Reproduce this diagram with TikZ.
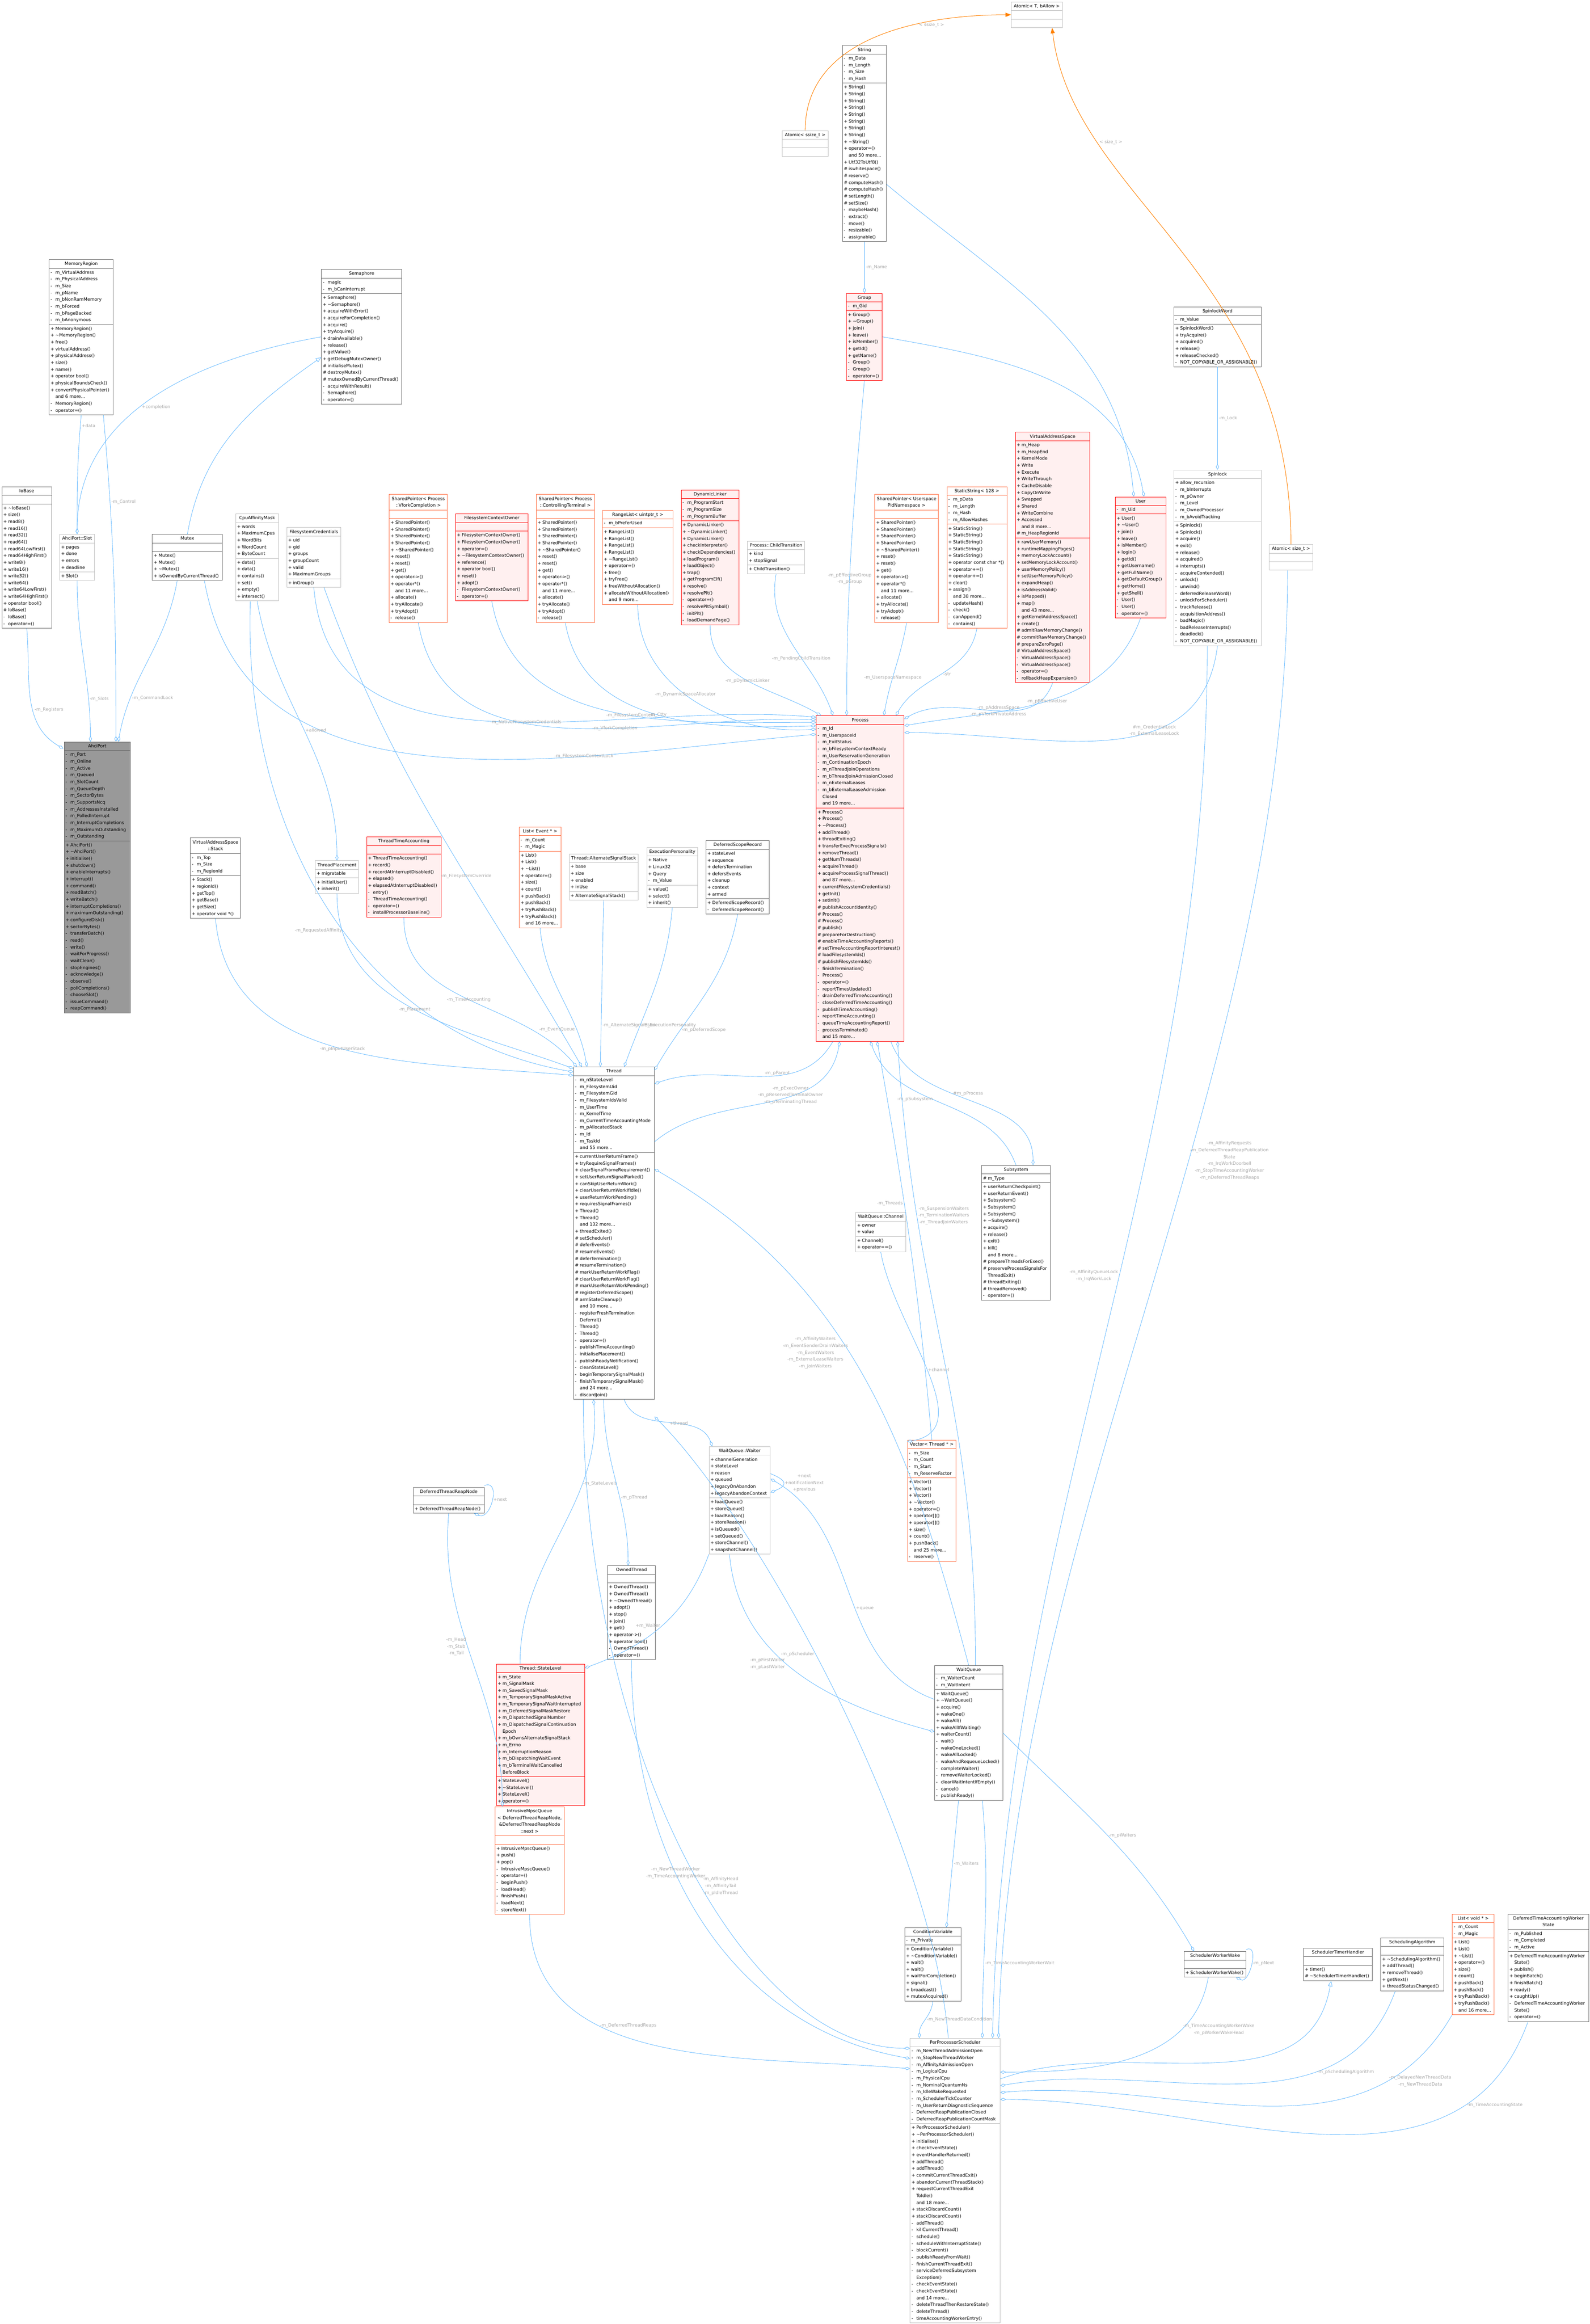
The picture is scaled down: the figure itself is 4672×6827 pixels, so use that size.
\documentclass[tikz,border=0pt]{standalone}
\usepackage{fontspec}
\setmainfont{DejaVu Sans}
\usetikzlibrary{shapes.multipart,arrows.meta}
\definecolor{eb}{HTML}{63B8FF}
\definecolor{lc}{HTML}{A8A8A8}
\definecolor{dk}{HTML}{666666}
\definecolor{lt}{HTML}{BFBFBF}
\definecolor{rf}{HTML}{FFF0F0}
\definecolor{orn}{HTML}{FF6A3D}
\newcommand\fs{\fontsize{3.7}{5.69}\selectfont}
\newcommand\mi[2]{\strut\makebox[1.1em][l]{#1}#2\par}
\newcommand\Mp[1]{\mi{+}{#1}}
\newcommand\Mv[1]{\mi{-}{#1}}
\newcommand\Mh[1]{\mi{\#}{#1}}
\newcommand\Mc[1]{\strut\hspace*{1.1em}#1\par}
\newcommand\tl{\textasciitilde}
\newcommand\cbox[8]{\node[cls,#2,text width=#5cm] (#1) at (#3,#4) {\centering #6\par\nodepart{two}\raggedright #7\nodepart{three}\raggedright #8};}
\begin{document}
\catcode`\_=12
\begin{tikzpicture}[x=0.01cm,y=-0.01cm,
 cls/.style={rectangle split,rectangle split parts=3,draw,anchor=north west,inner xsep=0.04cm,inner ysep=0.02cm,font=\fs,line width=0.012cm},
 dkb/.style={draw=dk,fill=white},
 ltb/.style={draw=lt,fill=white},
 redb/.style={draw=red,fill=rf},
 orb/.style={draw=orn,fill=white},
 root/.style={draw=dk,fill=black!40},
 agg/.style={draw=eb,line width=0.012cm,-{Diamond[open,length=0.17cm,width=0.09cm]}},
 inh/.style={draw=eb,line width=0.012cm,-{Triangle[open,length=0.16cm,width=0.13cm]}},
 tmpl/.style={draw=orange,line width=0.014cm,-{Triangle[length=0.16cm,width=0.12cm]}},
 lbl/.style={text=lc,font=\fs,align=center,inner sep=1pt}]
\useasboundingbox (0,0) rectangle (4672,6827);
% ---------------- top
\cbox{atomicT}{ltb}{2971}{5}{1.42}{\strut Atomic< T, bAllow >}{\strut}{\strut}
\cbox{string}{dkb}{2475}{133}{1.21}{\strut String}{\Mv{m_Data}\Mv{m_Length}\Mv{m_Size}\Mv{m_Hash}}{\Mp{String()}\Mp{String()}\Mp{String()}\Mp{String()}\Mp{String()}\Mp{String()}\Mp{String()}\Mp{String()}\Mp{\tl String()}\Mp{operator=()}\Mc{and 50 more...}\Mp{Utf32ToUtf8()}\Mh{iswhitespace()}\Mh{reserve()}\Mh{computeHash()}\Mh{computeHash()}\Mh{setLength()}\Mh{setSize()}\Mv{maybeHash()}\Mv{extract()}\Mv{move()}\Mv{resizable()}\Mv{assignable()}}
\cbox{assize}{ltb}{2298}{383}{1.27}{\strut Atomic< ssize_t >}{\strut}{\strut}
\cbox{group}{redb}{2487}{861}{0.97}{\strut Group}{\Mv{m_Gid}}{\Mp{Group()}\Mp{\tl Group()}\Mp{join()}\Mp{leave()}\Mp{isMember()}\Mp{getId()}\Mp{getName()}\Mv{Group()}\Mv{Group()}\Mv{operator=()}}
\cbox{memreg}{dkb}{144}{762}{1.80}{\strut MemoryRegion}{\Mv{m_VirtualAddress}\Mv{m_PhysicalAddress}\Mv{m_Size}\Mv{m_pName}\Mv{m_bNonRamMemory}\Mv{m_bForced}\Mv{m_bPageBacked}\Mv{m_bAnonymous}}{\Mp{MemoryRegion()}\Mp{\tl MemoryRegion()}\Mp{free()}\Mp{virtualAddress()}\Mp{physicalAddress()}\Mp{size()}\Mp{name()}\Mp{operator bool()}\Mp{physicalBoundsCheck()}\Mp{convertPhysicalPointer()}\Mc{and 6 more...}\Mv{MemoryRegion()}\Mv{operator=()}}
\cbox{sem}{dkb}{944}{791}{2.28}{\strut Semaphore}{\Mv{magic}\Mv{m_bCanInterrupt}}{\Mp{Semaphore()}\Mp{\tl Semaphore()}\Mp{acquireWithError()}\Mp{acquireForCompletion()}\Mp{acquire()}\Mp{tryAcquire()}\Mp{drainAvailable()}\Mp{release()}\Mp{getValue()}\Mp{getDebugMutexOwner()}\Mh{initialiseMutex()}\Mh{destroyMutex()}\Mh{mutexOwnedByCurrentThread()}\Mv{acquireWithResult()}\Mv{Semaphore()}\Mv{operator=()}}
\cbox{swd}{dkb}{3449}{901}{2.48}{\strut SpinlockWord}{\Mv{m_Value}}{\Mp{SpinlockWord()}\Mp{tryAcquire()}\Mp{acquired()}\Mp{release()}\Mp{releaseChecked()}\Mv{NOT_COPYABLE_OR_ASSIGNABLE()}}
\cbox{spin}{ltb}{3449}{1380}{2.48}{\strut Spinlock}{\Mp{allow_recursion}\Mv{m_bInterrupts}\Mv{m_pOwner}\Mv{m_Level}\Mv{m_OwnedProcessor}\Mv{m_bAvoidTracking}}{\Mp{Spinlock()}\Mp{Spinlock()}\Mp{acquire()}\Mp{exit()}\Mp{release()}\Mp{acquired()}\Mp{interrupts()}\Mv{acquireContended()}\Mv{unlock()}\Mv{unwind()}\Mv{deferredReleaseWord()}\Mv{unlockForScheduler()}\Mv{trackRelease()}\Mv{acquisitionAddress()}\Mv{badMagic()}\Mv{badReleaseInterrupts()}\Mv{deadlock()}\Mv{NOT_COPYABLE_OR_ASSIGNABLE()}}
\cbox{asize}{ltb}{3729}{1599}{1.20}{\strut Atomic< size_t >}{\strut}{\strut}
\cbox{vas}{redb}{2983}{1269}{2.11}{\strut VirtualAddressSpace}{\Mp{m_Heap}\Mp{m_HeapEnd}\Mp{KernelMode}\Mp{Write}\Mp{Execute}\Mp{WriteThrough}\Mp{CacheDisable}\Mp{CopyOnWrite}\Mp{Swapped}\Mp{Shared}\Mp{WriteCombine}\Mp{Accessed}\Mc{and 8 more...}\Mh{m_HeapRegionId}}{\Mp{rawUserMemory()}\Mp{runtimeMappingPages()}\Mp{memoryLockAccount()}\Mp{setMemoryLockAccount()}\Mp{userMemoryPolicy()}\Mp{setUserMemoryPolicy()}\Mp{expandHeap()}\Mp{isAddressValid()}\Mp{isMapped()}\Mp{map()}\Mc{and 43 more...}\Mp{getKernelAddressSpace()}\Mp{create()}\Mh{admitRawMemoryChange()}\Mh{commitRawMemoryChange()}\Mh{prepareZeroPage()}\Mh{VirtualAddressSpace()}\Mv{VirtualAddressSpace()}\Mv{VirtualAddressSpace()}\Mv{operator=()}\Mv{rollbackHeapExpansion()}}
\cbox{user}{redb}{3277}{1459}{1.40}{\strut User}{\Mv{m_Uid}}{\Mp{User()}\Mp{\tl User()}\Mp{join()}\Mp{leave()}\Mp{isMember()}\Mp{login()}\Mp{getId()}\Mp{getUsername()}\Mp{getFullName()}\Mp{getDefaultGroup()}\Mp{getHome()}\Mp{getShell()}\Mv{User()}\Mv{User()}\Mv{operator=()}}
\cbox{iobase}{dkb}{5}{1429}{1.38}{\strut IoBase}{\strut}{\Mp{\tl IoBase()}\Mp{size()}\Mp{read8()}\Mp{read16()}\Mp{read32()}\Mp{read64()}\Mp{read64LowFirst()}\Mp{read64HighFirst()}\Mp{write8()}\Mp{write16()}\Mp{write32()}\Mp{write64()}\Mp{write64LowFirst()}\Mp{write64HighFirst()}\Mp{operator bool()}\Mh{IoBase()}\Mv{IoBase()}\Mv{operator=()}}
\cbox{slot}{ltb}{175}{1569}{0.94}{\strut AhciPort::Slot}{\Mp{pages}\Mp{done}\Mp{errors}\Mp{deadline}}{\Mp{Slot()}}
\cbox{mutex}{dkb}{447}{1569}{1.98}{\strut Mutex}{\strut}{\Mp{Mutex()}\Mp{Mutex()}\Mp{\tl Mutex()}\Mp{isOwnedByCurrentThread()}}
\cbox{cpu}{ltb}{692}{1509}{1.18}{\strut CpuAffinityMask}{\Mp{words}\Mp{MaximumCpus}\Mp{WordBits}\Mp{WordCount}\Mp{ByteCount}}{\Mp{data()}\Mp{data()}\Mp{contains()}\Mp{set()}\Mp{empty()}\Mp{intersect()}}
\cbox{fscred}{ltb}{842}{1549}{1.51}{\strut FilesystemCredentials}{\Mp{uid}\Mp{gid}\Mp{groups}\Mp{groupCount}\Mp{valid}\Mp{MaximumGroups}}{\Mp{inGroup()}}
\cbox{spvf}{orb}{1143}{1452}{1.63}{\strut SharedPointer< Process\\\strut ::VforkCompletion >}{\strut}{\Mp{SharedPointer()}\Mp{SharedPointer()}\Mp{SharedPointer()}\Mp{SharedPointer()}\Mp{\tl SharedPointer()}\Mp{reset()}\Mp{reset()}\Mp{get()}\Mp{operator->()}\Mp{operator*()}\Mc{and 11 more...}\Mp{allocate()}\Mp{tryAllocate()}\Mp{tryAdopt()}\Mv{release()}}
\cbox{fsco}{redb}{1338}{1509}{2.05}{\strut FilesystemContextOwner}{\strut}{\Mp{FilesystemContextOwner()}\Mp{FilesystemContextOwner()}\Mp{operator=()}\Mp{\tl FilesystemContextOwner()}\Mp{reference()}\Mp{operator bool()}\Mp{reset()}\Mp{adopt()}\Mv{FilesystemContextOwner()}\Mv{operator=()}}
\cbox{spct}{orb}{1575}{1452}{1.63}{\strut SharedPointer< Process\\\strut ::ControllingTerminal >}{\strut}{\Mp{SharedPointer()}\Mp{SharedPointer()}\Mp{SharedPointer()}\Mp{SharedPointer()}\Mp{\tl SharedPointer()}\Mp{reset()}\Mp{reset()}\Mp{get()}\Mp{operator->()}\Mp{operator*()}\Mc{and 11 more...}\Mp{allocate()}\Mp{tryAllocate()}\Mp{tryAdopt()}\Mv{release()}}
\cbox{range}{orb}{1770}{1499}{1.99}{\strut RangeList< uintptr_t >}{\Mv{m_bPreferUsed}}{\Mp{RangeList()}\Mp{RangeList()}\Mp{RangeList()}\Mp{RangeList()}\Mp{\tl RangeList()}\Mp{operator=()}\Mp{free()}\Mp{tryFree()}\Mp{freeWithoutAllocation()}\Mp{allocateWithoutAllocation()}\Mc{and 9 more...}}
\cbox{dynl}{redb}{2001}{1439}{1.62}{\strut DynamicLinker}{\Mv{m_ProgramStart}\Mv{m_ProgramSize}\Mv{m_ProgramBuffer}}{\Mp{DynamicLinker()}\Mp{\tl DynamicLinker()}\Mp{DynamicLinker()}\Mp{checkInterpreter()}\Mp{checkDependencies()}\Mp{loadProgram()}\Mp{loadObject()}\Mp{trap()}\Mp{getProgramElf()}\Mp{resolve()}\Mp{resolvePlt()}\Mv{operator=()}\Mv{resolvePltSymbol()}\Mv{initPlt()}\Mv{loadDemandPage()}}
\cbox{child}{ltb}{2196}{1589}{1.60}{\strut Process::ChildTransition}{\Mp{kind}\Mp{stopSignal}}{\Mp{ChildTransition()}}
\cbox{sppid}{orb}{2570}{1452}{1.79}{\strut SharedPointer< Userspace\\\strut PidNamespace >}{\strut}{\Mp{SharedPointer()}\Mp{SharedPointer()}\Mp{SharedPointer()}\Mp{SharedPointer()}\Mp{\tl SharedPointer()}\Mp{reset()}\Mp{reset()}\Mp{get()}\Mp{operator->()}\Mp{operator*()}\Mc{and 11 more...}\Mp{allocate()}\Mp{tryAllocate()}\Mp{tryAdopt()}\Mv{release()}}
\cbox{sstr}{orb}{2782}{1429}{1.68}{\strut StaticString< 128 >}{\Mv{m_pData}\Mv{m_Length}\Mv{m_Hash}\Mv{m_AllowHashes}}{\Mp{StaticString()}\Mp{StaticString()}\Mp{StaticString()}\Mp{StaticString()}\Mp{StaticString()}\Mp{operator const char *()}\Mp{operator+=()}\Mp{operator+=()}\Mp{clear()}\Mp{assign()}\Mc{and 38 more...}\Mv{updateHash()}\Mv{check()}\Mv{canAppend()}\Mv{contains()}}
% ---------------- middle
\cbox{ahci}{root}{188}{2179}{1.86}{\strut AhciPort}{\Mv{m_Port}\Mv{m_Online}\Mv{m_Active}\Mv{m_Queued}\Mv{m_SlotCount}\Mv{m_QueueDepth}\Mv{m_SectorBytes}\Mv{m_SupportsNcq}\Mv{m_AddressesInstalled}\Mv{m_PolledInterrupt}\Mv{m_InterruptCompletions}\Mv{m_MaximumOutstanding}\Mv{m_Outstanding}}{\Mp{AhciPort()}\Mp{\tl AhciPort()}\Mp{initialise()}\Mp{shutdown()}\Mp{enableInterrupts()}\Mp{interrupt()}\Mp{command()}\Mp{readBatch()}\Mp{writeBatch()}\Mp{interruptCompletions()}\Mp{maximumOutstanding()}\Mp{configureDisk()}\Mp{sectorBytes()}\Mv{transferBatch()}\Mv{read()}\Mv{write()}\Mv{waitForProgress()}\Mv{waitClear()}\Mv{stopEngines()}\Mv{acknowledge()}\Mv{observe()}\Mv{pollCompletions()}\Mv{chooseSlot()}\Mv{issueCommand()}\Mv{reapCommand()}}
\cbox{process}{redb}{2398}{2102}{2.50}{\strut Process}{\Mv{m_Id}\Mv{m_UserspaceId}\Mv{m_ExitStatus}\Mv{m_bFilesystemContextReady}\Mv{m_UserReservationGeneration}\Mv{m_ContinuationEpoch}\Mv{m_nThreadJoinOperations}\Mv{m_bThreadJoinAdmissionClosed}\Mv{m_nExternalLeases}\Mv{m_bExternalLeaseAdmission}\Mc{Closed}\Mc{and 19 more...}}{\Mp{Process()}\Mp{Process()}\Mp{\tl Process()}\Mp{addThread()}\Mp{threadExiting()}\Mp{transferExecProcessSignals()}\Mp{removeThread()}\Mp{getNumThreads()}\Mp{acquireThread()}\Mp{acquireProcessSignalThread()}\Mc{and 87 more...}\Mp{currentFilesystemCredentials()}\Mp{getInit()}\Mp{setInit()}\Mh{publishAccountIdentity()}\Mh{Process()}\Mh{Process()}\Mh{publish()}\Mh{prepareForDestruction()}\Mh{enableTimeAccountingReports()}\Mh{setTimeAccountingReportInterest()}\Mh{loadFilesystemIds()}\Mh{publishFilesystemIds()}\Mv{finishTermination()}\Mv{Process()}\Mv{operator=()}\Mv{reportTimesUpdated()}\Mv{drainDeferredTimeAccounting()}\Mv{closeDeferredTimeAccounting()}\Mv{publishTimeAccounting()}\Mv{reportTimeAccounting()}\Mv{queueTimeAccountingReport()}\Mv{processTerminated()}\Mc{and 15 more...}}
\cbox{stack}{dkb}{559}{2461}{1.39}{\strut VirtualAddressSpace\\\strut ::Stack}{\Mv{m_Top}\Mv{m_Size}\Mv{m_RegionId}}{\Mp{Stack()}\Mp{regionId()}\Mp{getTop()}\Mp{getBase()}\Mp{getSize()}\Mp{operator void *()}}
\cbox{tplace}{ltb}{926}{2528}{1.19}{\strut ThreadPlacement}{\Mp{migratable}}{\Mp{initialUser()}\Mp{inherit()}}
\cbox{tta}{redb}{1077}{2458}{2.10}{\strut ThreadTimeAccounting}{\strut}{\Mp{ThreadTimeAccounting()}\Mp{record()}\Mp{recordAtInterruptDisabled()}\Mp{elapsed()}\Mp{elapsedAtInterruptDisabled()}\Mv{entry()}\Mv{ThreadTimeAccounting()}\Mv{operator=()}\Mv{installProcessorBaseline()}}
\cbox{levent}{orb}{1525}{2429}{1.15}{\strut List< Event * >}{\Mv{m_Count}\Mv{m_Magic}}{\Mp{List()}\Mp{List()}\Mp{\tl List()}\Mp{operator=()}\Mp{size()}\Mp{count()}\Mp{pushBack()}\Mp{pushBack()}\Mp{tryPushBack()}\Mp{tryPushBack()}\Mc{and 16 more...}}
\cbox{alt}{ltb}{1672}{2508}{1.94}{\strut Thread::AlternateSignalStack}{\Mp{base}\Mp{size}\Mp{enabled}\Mp{inUse}}{\Mp{AlternateSignalStack()}}
\cbox{expers}{ltb}{1900}{2489}{1.42}{\strut ExecutionPersonality}{\Mp{Native}\Mp{Linux32}\Mp{Query}\Mv{m_Value}}{\Mp{value()}\Mp{select()}\Mp{inherit()}}
\cbox{dsr}{dkb}{2074}{2469}{1.78}{\strut DeferredScopeRecord}{\Mp{stateLevel}\Mp{sequence}\Mp{defersTermination}\Mp{defersEvents}\Mp{cleanup}\Mp{context}\Mp{armed}}{\Mp{DeferredScopeRecord()}\Mv{DeferredScopeRecord()}}
\cbox{thread}{dkb}{1685}{3134}{2.29}{\strut Thread}{\Mv{m_nStateLevel}\Mv{m_FilesystemUid}\Mv{m_FilesystemGid}\Mv{m_FilesystemIdsValid}\Mv{m_UserTime}\Mv{m_KernelTime}\Mv{m_CurrentTimeAccountingMode}\Mv{m_pAllocatedStack}\Mv{m_Id}\Mv{m_TaskId}\Mc{and 55 more...}}{\Mp{currentUserReturnFrame()}\Mp{tryRequireSignalFrames()}\Mp{clearSignalFrameRequirement()}\Mp{setUserReturnSignalParked()}\Mp{canSkipUserReturnWork()}\Mp{clearUserReturnWorkIfIdle()}\Mp{userReturnWorkPending()}\Mp{requiresSignalFrames()}\Mp{Thread()}\Mp{Thread()}\Mc{and 132 more...}\Mp{threadExited()}\Mh{setScheduler()}\Mh{deferEvents()}\Mh{resumeEvents()}\Mh{deferTermination()}\Mh{resumeTermination()}\Mh{markUserReturnWorkFlag()}\Mh{clearUserReturnWorkFlag()}\Mh{markUserReturnWorkPending()}\Mh{registerDeferredScope()}\Mh{armStateCleanup()}\Mc{and 10 more...}\Mv{registerFreshTermination}\Mc{Deferral()}\Mv{Thread()}\Mv{Thread()}\Mv{operator=()}\Mv{publishTimeAccounting()}\Mv{initialisePlacement()}\Mv{publishReadyNotification()}\Mv{cleanStateLevel()}\Mv{beginTemporarySignalMask()}\Mv{finishTemporarySignalMask()}\Mc{and 24 more...}\Mv{discardJoin()}}
\cbox{subsys}{dkb}{2884}{3423}{1.94}{\strut Subsystem}{\Mh{m_Type}}{\Mp{userReturnCheckpoint()}\Mp{userReturnEvent()}\Mp{Subsystem()}\Mp{Subsystem()}\Mp{Subsystem()}\Mp{\tl Subsystem()}\Mp{acquire()}\Mp{release()}\Mp{exit()}\Mp{kill()}\Mc{and 8 more...}\Mh{prepareThreadsForExec()}\Mh{preserveProcessSignalsFor}\Mc{ThreadExit()}\Mh{threadExiting()}\Mh{threadRemoved()}\Mv{operator=()}}
\cbox{chan}{ltb}{2514}{3561}{1.39}{\strut WaitQueue::Channel}{\Mp{owner}\Mp{value}}{\Mp{Channel()}\Mp{operator==()}}
% ---------------- lower
\cbox{dtrn}{dkb}{1214}{4369}{2.00}{\strut DeferredThreadReapNode}{\strut}{\Mp{DeferredThreadReapNode()}}
\cbox{owned}{dkb}{1785}{4599}{1.32}{\strut OwnedThread}{\strut}{\Mp{OwnedThread()}\Mp{OwnedThread()}\Mp{\tl OwnedThread()}\Mp{adopt()}\Mp{stop()}\Mp{join()}\Mp{get()}\Mp{operator->()}\Mp{operator bool()}\Mv{OwnedThread()}\Mv{operator=()}}
\cbox{waiter}{ltb}{2083}{4249}{1.72}{\strut WaitQueue::Waiter}{\Mp{channelGeneration}\Mp{stateLevel}\Mp{reason}\Mp{queued}\Mp{legacyOnAbandon}\Mp{legacyAbandonContext}}{\Mp{loadQueue()}\Mp{storeQueue()}\Mp{loadReason()}\Mp{storeReason()}\Mp{isQueued()}\Mp{setQueued()}\Mp{storeChannel()}\Mp{snapshotChannel()}}
\cbox{vector}{orb}{2666}{4230}{1.35}{\strut Vector< Thread * >}{\Mv{m_Size}\Mv{m_Count}\Mv{m_Start}\Mv{m_ReserveFactor}}{\Mp{Vector()}\Mp{Vector()}\Mp{Vector()}\Mp{\tl Vector()}\Mp{operator=()}\Mp{operator[]()}\Mp{operator[]()}\Mp{size()}\Mp{count()}\Mp{pushBack()}\Mc{and 25 more...}\Mv{reserve()}}
\cbox{level}{redb}{1458}{4888}{2.51}{\strut Thread::StateLevel}{\Mp{m_State}\Mp{m_SignalMask}\Mp{m_SavedSignalMask}\Mp{m_TemporarySignalMaskActive}\Mp{m_TemporarySignalWaitInterrupted}\Mp{m_DeferredSignalMaskRestore}\Mp{m_DispatchedSignalNumber}\Mp{m_DispatchedSignalContinuation}\Mc{Epoch}\Mp{m_bOwnsAlternateSignalStack}\Mp{m_Errno}\Mp{m_InterruptionReason}\Mp{m_bDispatchingWaitEvent}\Mp{m_bTerminalWaitCancelled}\Mc{BeforeBlock}}{\Mp{StateLevel()}\Mp{\tl StateLevel()}\Mp{StateLevel()}\Mp{operator=()}}
\cbox{mpsc}{orb}{1454}{5307}{1.95}{\strut IntrusiveMpscQueue\\\strut < DeferredThreadReapNode,\\\strut \&DeferredThreadReapNode\\\strut ::next >}{\strut}{\Mp{IntrusiveMpscQueue()}\Mp{push()}\Mp{pop()}\Mv{IntrusiveMpscQueue()}\Mv{operator=()}\Mv{beginPush()}\Mv{loadHead()}\Mv{finishPush()}\Mv{loadNext()}\Mv{storeNext()}}
\cbox{waitq}{dkb}{2746}{4892}{1.92}{\strut WaitQueue}{\Mv{m_WaiterCount}\Mv{m_WaitIntent}}{\Mp{WaitQueue()}\Mp{\tl WaitQueue()}\Mp{acquire()}\Mp{wakeOne()}\Mp{wakeAll()}\Mp{wakeAllIfWaiting()}\Mp{waiterCount()}\Mv{wait()}\Mv{wakeOneLocked()}\Mv{wakeAllLocked()}\Mv{wakeAndRequeueLocked()}\Mv{completeWaiter()}\Mv{removeWaiterLocked()}\Mv{clearWaitIntentIfEmpty()}\Mv{cancel()}\Mv{publishReady()}}
\cbox{cv}{dkb}{2658}{5662}{1.57}{\strut ConditionVariable}{\Mv{m_Private}}{\Mp{ConditionVariable()}\Mp{\tl ConditionVariable()}\Mp{wait()}\Mp{wait()}\Mp{waitForCompletion()}\Mp{signal()}\Mp{broadcast()}\Mp{mutexAcquired()}}
\cbox{pps}{ltb}{2674}{5987}{2.56}{\strut PerProcessorScheduler}{\Mv{m_NewThreadAdmissionOpen}\Mv{m_StopNewThreadWorker}\Mv{m_AffinityAdmissionOpen}\Mv{m_LogicalCpu}\Mv{m_PhysicalCpu}\Mv{m_NominalQuantumNs}\Mv{m_IdleWakeRequested}\Mv{m_SchedulerTickCounter}\Mv{m_UserReturnDiagnosticSequence}\Mv{DeferredReapPublicationClosed}\Mv{DeferredReapPublicationCountMask}}{\Mp{PerProcessorScheduler()}\Mp{\tl PerProcessorScheduler()}\Mp{initialise()}\Mp{checkEventState()}\Mp{eventHandlerReturned()}\Mp{addThread()}\Mp{addThread()}\Mp{commitCurrentThreadExit()}\Mp{abandonCurrentThreadStack()}\Mp{requestCurrentThreadExit}\Mc{ToIdle()}\Mc{and 18 more...}\Mp{stackDiscardCount()}\Mp{stackDiscardCount()}\Mv{addThread()}\Mv{killCurrentThread()}\Mv{schedule()}\Mv{scheduleWithInterruptState()}\Mv{blockCurrent()}\Mv{publishReadyFromWait()}\Mv{finishCurrentThreadExit()}\Mv{serviceDeferredSubsystem}\Mc{Exception()}\Mv{checkEventState()}\Mv{checkEventState()}\Mc{and 14 more...}\Mv{deleteThreadThenRestoreState()}\Mv{deleteThread()}\Mv{timeAccountingWorkerEntry()}}
\cbox{sww}{dkb}{3479}{5732}{1.74}{\strut SchedulerWorkerWake}{\strut}{\Mp{SchedulerWorkerWake()}}
\cbox{sth}{dkb}{3830}{5722}{1.94}{\strut SchedulerTimerHandler}{\strut}{\Mp{timer()}\Mh{\tl SchedulerTimerHandler()}}
\cbox{salg}{dkb}{4057}{5692}{1.77}{\strut SchedulingAlgorithm}{\strut}{\Mp{\tl SchedulingAlgorithm()}\Mp{addThread()}\Mp{removeThread()}\Mp{getNext()}\Mp{threadStatusChanged()}}
\cbox{lvoid}{orb}{4267}{5622}{1.15}{\strut List< void * >}{\Mv{m_Count}\Mv{m_Magic}}{\Mp{List()}\Mp{List()}\Mp{\tl List()}\Mp{operator=()}\Mp{size()}\Mp{count()}\Mp{pushBack()}\Mp{pushBack()}\Mp{tryPushBack()}\Mp{tryPushBack()}\Mc{and 16 more...}}
\cbox{dtaws}{dkb}{4431}{5622}{2.29}{\strut DeferredTimeAccountingWorker\\\strut State}{\Mv{m_Published}\Mv{m_Completed}\Mv{m_Active}}{\Mp{DeferredTimeAccountingWorker}\Mc{State()}\Mp{publish()}\Mp{beginBatch()}\Mp{finishBatch()}\Mp{ready()}\Mp{caughtUp()}\Mv{DeferredTimeAccountingWorker}\Mc{State()}\Mv{operator=()}}
% ================= connectors
\draw[tmpl] (assize.north) to[out=90,in=180] node[lbl,pos=0.72,below]{< ssize_t >} (atomicT.west);
\draw[tmpl] (asize.north) .. controls +(0cm,8cm) and +(0.6cm,-5cm) .. ([xshift=0.45cm]atomicT.south) node[lbl,pos=0.75,right]{< size_t >};
\draw[agg] (memreg.south) to[out=-95,in=90] node[lbl,pos=0.08,right]{+data} (slot.north);
\draw[agg] (sem.west) to[out=190,in=90] node[lbl,pos=0.55,right]{+completion} (slot.north);
\draw[agg] ([xshift=0.65cm]memreg.south) to[out=-85,in=90] node[lbl,pos=0.25,right]{-m_Control} ([xshift=0.55cm]ahci.north);
\draw[agg] (iobase.south) to[out=-85,in=150] node[lbl,pos=0.6,right]{-m_Registers} ([xshift=-0.02cm,yshift=-0.2cm]ahci.north west);
\draw[agg] (slot.south) to[out=-90,in=90] node[lbl,pos=0.75,right]{-m_Slots} ([xshift=-0.2cm]ahci.north);
\draw[agg] ([xshift=-0.3cm]mutex.south) to[out=-100,in=80] node[lbl,pos=0.75,right]{-m_CommandLock} ([xshift=0.62cm]ahci.north);
\draw[inh] (mutex.north) to[out=80,in=215] ([yshift=-0.6cm]sem.west);
\draw[agg] (string.south) -- node[lbl,right]{-m_Name} (group.north);
\draw[agg] ([yshift=-1.2cm]string.east) to[out=-40,in=95] ([xshift=-0.2cm]user.north);
\draw[agg] (group.east) to[out=-10,in=100] ([xshift=0.1cm]user.north);
\draw[agg] (swd.south) -- node[lbl,right]{-m_Lock} (spin.north);
% into Process
\draw[agg] (fscred.south) to[out=-85,in=175] node[lbl,pos=0.55]{-m_NativeFilesystemCredentials} ([yshift=-0.05cm]process.north west);
\draw[agg] (spvf.south) to[out=-80,in=178] node[lbl,pos=0.6]{-m_VforkCompletion} ([yshift=-0.12cm]process.north west);
\draw[agg] (fsco.south) to[out=-80,in=180] node[lbl,pos=0.55]{-m_FilesystemContext} ([yshift=-0.2cm]process.north west);
\draw[agg] (spct.south) to[out=-80,in=182] node[lbl,pos=0.5]{-m_Ctty} ([yshift=-0.3cm]process.north west);
\draw[agg] (range.south) to[out=-90,in=184] node[lbl,pos=0.45]{-m_DynamicSpaceAllocator} ([yshift=-0.4cm]process.north west);
\draw[agg] (dynl.south) to[out=-90,in=150] node[lbl,pos=0.5]{-m_pDynamicLinker} ([xshift=0.15cm]process.north west);
\draw[agg] (child.south) to[out=-100,in=110] node[lbl,pos=0.6]{-m_PendingChildTransition} ([xshift=0.5cm]process.north west);
\draw[agg] (group.south) to[out=-95,in=90] node[lbl,pos=0.6]{-m_pEffectiveGroup\\-m_pGroup} ([xshift=0.9cm]process.north west);
\draw[agg] (sppid.south) to[out=-100,in=80] node[lbl,pos=0.6]{-m_UserspaceNamespace} ([xshift=-0.6cm]process.north east);
\draw[agg] (sstr.south) to[out=-100,in=60] node[lbl,pos=0.5,right]{-str} ([xshift=-0.25cm]process.north east);
\draw[agg] (vas.south) to[out=-110,in=30] node[lbl,pos=0.45]{-m_pAddressSpace\\-m_pVforkPrivateAddress} ([yshift=-0.1cm]process.north east);
\draw[agg] (user.south) to[out=-110,in=10] node[lbl,pos=0.5]{-m_pEffectiveUser} ([yshift=-0.3cm]process.north east);
\draw[agg] (spin.south) .. controls +(-0.5cm,-4cm) and +(4cm,0cm) .. ([yshift=-0.5cm]process.north east) node[lbl,pos=0.35]{\#m_CredentialLock\\-m_ExternalLeaseLock};
\draw[agg] ([xshift=0.5cm]mutex.south) to[out=-80,in=185] node[lbl,pos=0.7]{-m_FilesystemContextLock} ([yshift=-0.55cm]process.north west);
\draw[agg] (cpu.south) to[out=-80,in=90] node[lbl,pos=0.5,right]{+allowed} (tplace.north);
% into Thread
\draw[agg] ([xshift=-0.2cm]cpu.south) to[out=-92,in=170] node[lbl,pos=0.55,left]{-m_RequestedAffinity} ([yshift=-0.15cm]thread.north west);
\draw[agg] (stack.south) to[out=-85,in=175] node[lbl,pos=0.5]{-m_pInputUserStack} ([yshift=-0.25cm]thread.north west);
\draw[agg] (tplace.south) to[out=-90,in=160] node[lbl,pos=0.5]{-m_Placement} ([yshift=-0.05cm]thread.north west);
\draw[agg] (tta.south) to[out=-90,in=130] node[lbl,pos=0.5]{-m_TimeAccounting} ([xshift=0.1cm]thread.north west);
\draw[agg] ([xshift=0.3cm]fscred.south) to[out=-70,in=120] node[lbl,pos=0.6]{-m_FilesystemOverride} ([xshift=0.25cm]thread.north west);
\draw[agg] (levent.south) to[out=-85,in=100] node[lbl,pos=0.75,left]{-m_EventQueue} ([xshift=0.4cm]thread.north west);
\draw[agg] (alt.south) -- node[lbl,pos=0.75,right]{-m_AlternateSignalStack} ([xshift=-0.4cm]thread.north);
\draw[agg] (expers.south) to[out=-95,in=70] node[lbl,pos=0.75,right]{-m_ExecutionPersonality} ([xshift=0.3cm]thread.north);
\draw[agg] (dsr.south) to[out=-100,in=60] node[lbl,pos=0.75,right]{-m_pDeferredScope} ([yshift=-0.1cm]thread.north east);
\draw[agg] ([xshift=-0.8cm]process.south) to[out=-120,in=20] node[lbl,pos=0.3,left]{-m_pParent} ([yshift=-0.5cm]thread.north east);
\draw[agg] ([yshift=-2.2cm]thread.north east) to[out=40,in=-100] node[lbl,pos=0.62]{-m_pExecOwner\\-m_pReservedTerminalOwner\\-m_pTerminatingThread} ([xshift=-0.6cm]process.south);
\draw[agg] (subsys.north) to[out=110,in=-70] node[lbl,pos=0.55,left]{-m_pSubsystem} ([xshift=0.3cm]process.south);
\draw[agg] ([xshift=0.9cm]process.south) to[out=-70,in=90] node[lbl,pos=0.4,right]{\#m_pProcess} ([xshift=0.5cm]subsys.north);
\draw[agg] (vector.north) to[out=95,in=-80] node[lbl,pos=0.6,left]{-m_Threads} ([xshift=0.5cm]process.south);
\draw[agg] ([xshift=0.2cm]waitq.north) .. controls +(0cm,8cm) and +(0.5cm,-8cm) .. ([xshift=1.1cm]process.south) node[lbl,pos=0.75,right]{-m_SuspensionWaiters\\-m_TerminationWaiters\\-m_ThreadJoinWaiters};
% thread internals
\draw[agg] ([xshift=-0.6cm]level.north) to[out=90,in=-85] node[lbl,pos=0.7,right]{-m_StateLevels} ([xshift=-0.6cm]thread.south);
\draw[agg] ([yshift=0.05cm]dtrn.north east) .. controls +(0.5cm,0.2cm) and +(0.5cm,-0.2cm) .. ([xshift=-0.3cm]dtrn.south east) node[lbl,pos=0.5,right]{+next};
\draw[agg] (dtrn.south) to[out=-95,in=90] node[lbl,pos=0.45,left]{-m_Head\\-m_Stub\\-m_Tail} ([xshift=-0.8cm]mpsc.north);
\draw[agg] (waiter.south west) to[out=-110,in=20] node[lbl,pos=0.5,left]{+m_Waiter} ([yshift=-0.12cm]level.north east);
\draw[agg] ([xshift=-0.3cm]waiter.south) to[out=-85,in=165] node[lbl,pos=0.45,left]{-m_pFirstWaiter\\-m_pLastWaiter} ([yshift=-1.95cm]waitq.north west);
\draw[agg] ([yshift=-1.0cm]waitq.north west) to[out=160,in=-30] node[lbl,pos=0.45,right]{+queue} ([yshift=-0.95cm]waiter.north east);
\draw[agg] ([yshift=-0.8cm]waiter.north east) .. controls +(0.5cm,-0.2cm) and +(0.5cm,0.2cm) .. ([yshift=-1.35cm]waiter.north east) node[lbl,pos=0.5,right]{+next\\+notificationNext\\+previous};
\draw[agg] (chan.south) to[out=-80,in=10] node[lbl,pos=0.5,right]{+channel} ([yshift=-0.05cm]vector.north west);
\draw[agg] ([xshift=0.3cm]thread.south) to[out=-70,in=110] node[lbl,pos=0.5,right]{+thread} ([xshift=0.1cm]waiter.north west);
\draw[agg] (waitq.north) to[out=105,in=-30] node[lbl,pos=0.55,left]{-m_AffinityWaiters\\-m_EventSenderDrainWaiters\\-m_EventWaiters\\-m_ExternalLeaseWaiters\\-m_JoinWaiters} ([yshift=-3cm]thread.north east);
\draw[agg] ([xshift=-0.3cm]thread.south) to[out=-90,in=90] node[lbl,pos=0.6,right]{-m_pThread} ([xshift=-0.1cm]owned.north);
% PerProcessorScheduler
\draw[agg] ([xshift=-0.9cm]thread.south) .. controls +(0cm,-10cm) and +(-5cm,0cm) .. ([yshift=-0.3cm]pps.north west) node[lbl,pos=0.55,right]{-m_AffinityHead\\-m_AffinityTail\\-m_pIdleThread};
\draw[agg] ([xshift=-0.2cm]pps.north) .. controls +(-0.5cm,6cm) and +(3cm,-3cm) .. ([yshift=-0.5cm]thread.south east) node[lbl,pos=0.55,left]{-m_pScheduler};
\draw[agg] (owned.south) to[out=-90,in=170] node[lbl,pos=0.4]{-m_NewThreadWorker\\-m_TimeAccountingWorker} ([yshift=-0.6cm]pps.north west);
\draw[agg] (mpsc.south) to[out=-90,in=175] node[lbl,pos=0.35,right]{-m_DeferredThreadReaps} ([yshift=-0.9cm]pps.north west);
\draw[agg] ([xshift=-0.3cm]waitq.south) -- node[lbl,pos=0.5,right]{-m_Waiters} ([xshift=0.4cm]cv.north);
\draw[agg] (cv.south) to[out=-95,in=90] node[lbl,pos=0.5,right]{-m_NewThreadDataCondition} ([xshift=-1.05cm]pps.north);
\draw[agg] ([xshift=0.4cm]waitq.south) to[out=-85,in=90] node[lbl,pos=0.7,right]{-m_TimeAccountingWorkerWait} ([xshift=0.8cm]pps.north);
\draw[agg] (waitq.east) to[out=-45,in=120] node[lbl,pos=0.5,right]{-m_pWaiters} ([xshift=0.3cm]sww.north west);
\draw[agg] ([yshift=0.05cm]sww.north east) .. controls +(0.4cm,0.2cm) and +(0.4cm,-0.2cm) .. ([xshift=-0.3cm]sww.south east) node[lbl,pos=0.5,right]{-m_pNext};
\draw[agg] ([xshift=-0.2cm]sww.south) to[out=-100,in=0] node[lbl,pos=0.25,right]{-m_TimeAccountingWorkerWake\\-m_pWorkerWakeHead} ([yshift=-1.0cm]pps.north east);
\draw[inh] ([yshift=-1.2cm]pps.north east) to[out=20,in=-100] ([xshift=-0.2cm]sth.south);
\draw[agg] ([xshift=-0.5cm]salg.south) to[out=-110,in=10] node[lbl,pos=0.3,right]{-m_pSchedulingAlgorithm} ([yshift=-1.4cm]pps.north east);
\draw[agg] (lvoid.south west) to[out=-120,in=5] node[lbl,pos=0.2,right]{-m_DelayedNewThreadData\\-m_NewThreadData} ([yshift=-1.6cm]pps.north east);
\draw[agg] ([xshift=-0.6cm]dtaws.south) to[out=-110,in=0] node[lbl,pos=0.2,right]{-m_TimeAccountingState} ([yshift=-1.8cm]pps.north east);
\draw[agg] ([xshift=-0.3cm]spin.south) .. controls +(0cm,-15cm) and +(0.3cm,15cm) .. ([xshift=1.1cm]pps.north) node[lbl,pos=0.45,left]{-m_AffinityQueueLock\\-m_IrqWorkLock};
\draw[agg] ([xshift=-0.1cm]asize.south) .. controls +(0cm,-15cm) and +(0.3cm,15cm) .. ([xshift=-0.05cm]pps.north east) node[lbl,pos=0.4,right]{-m_AffinityRequests\\-m_DeferredThreadReapPublication\\State\\-m_IrqWorkDoorbell\\-m_StopTimeAccountingWorker\\-m_nDeferredThreadReaps};
\end{tikzpicture}
\end{document}
